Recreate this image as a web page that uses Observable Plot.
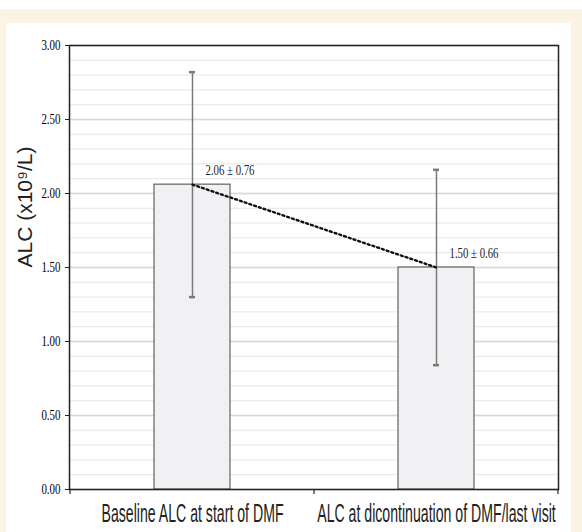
<!DOCTYPE html>
<html>
<head>
<meta charset="utf-8">
<script src="https://cdn.jsdelivr.net/npm/d3@7"></script>
<script src="https://cdn.jsdelivr.net/npm/@observablehq/plot@0.6"></script>
<style>
  html, body { margin: 0; padding: 0; background: #ffffff; }
  #page { position: relative; width: 582px; height: 532px; overflow: hidden; background: #ffffff; }
  #cream { position: absolute; left: 0; top: 9px; width: 582px; height: 523px; background: #fdf3e4; }
  #panel { position: absolute; left: 6px; top: 23px; width: 565px; height: 509px; background: #ffffff; }
  #chart { position: absolute; left: 0; top: 0; }
</style>
</head>
<body>
<div id="page">
  <div id="cream"></div>
  <div id="panel"></div>
  <div id="chart"></div>
</div>
<script>
const categories = ["Baseline ALC at start of DMF", "ALC at dicontinuation of DMF/last visit"];
const means = [2.06, 1.50];
const sds = [0.76, 0.66];
const yTicks = [0, 0.5, 1, 1.5, 2, 2.5, 3];
const yLabel = "ALC (x10\u2079/L)";

const data = categories.map((c, i) => ({category: c, mean: means[i], sd: sds[i]}));

const chart = Plot.plot({
  width: 582,
  height: 532,
  marginLeft: 69,
  marginRight: 24,
  marginTop: 45,
  marginBottom: 43,
  style: {background: "transparent", overflow: "visible"},
  x: {domain: categories, padding: 0, label: null},
  y: {domain: [0, 3], label: null},
  marks: [
    Plot.gridY({interval: 0.1, stroke: "#ebebeb", strokeOpacity: 1, strokeWidth: 1.3}),
    Plot.gridY(yTicks, {stroke: "#d9d9d9", strokeOpacity: 1, strokeWidth: 1.3}),
    Plot.barY(data, {x: "category", y: "mean", fill: "#f1f1f3", stroke: "#444", strokeWidth: 1, insetLeft: 84, insetRight: 84}),
    Plot.ruleX(data, {x: "category", y1: d => d.mean - d.sd, y2: d => d.mean + d.sd, stroke: "#7a7a7a", strokeWidth: 1.5}),
    Plot.tickY(data, {x: "category", y: d => d.mean + d.sd, stroke: "#7a7a7a", strokeWidth: 2.5, insetLeft: 119, insetRight: 119}),
    Plot.tickY(data, {x: "category", y: d => d.mean - d.sd, stroke: "#7a7a7a", strokeWidth: 2.5, insetLeft: 119, insetRight: 119}),
    Plot.line(data, {x: "category", y: "mean", stroke: "#111", strokeWidth: 2.4, strokeDasharray: "2,3"}),
    Plot.text(data, {x: "category", y: "mean", text: d => `${d.mean.toFixed(2)} \u00b1 ${d.sd.toFixed(2)}`, textAnchor: "start", dx: 13, dy: -14, fontFamily: "Liberation Serif", fontSize: 14, fill: "#222"}),
    Plot.axisY({ticks: yTicks, tickFormat: d3.format(".2f"), tickSize: 4, tickPadding: 5, fontFamily: "Liberation Serif", fontSize: 14, label: null, stroke: "#222"}),
    Plot.axisX({tickSize: 0, tickPadding: 15, fontFamily: "Liberation Sans", fontSize: 25, label: null, fill: "#222"}),
    Plot.text([yLabel], {frameAnchor: "left", rotate: -90, dx: -44, fontFamily: "Liberation Sans", fontSize: 21, fill: "#222"}),
    Plot.frame({stroke: "#222", strokeWidth: 1.5})
  ]
});

document.getElementById("chart").appendChild(chart);

// condense texts horizontally (the reference uses condensed typefaces)
const svg = d3.select(chart);
function condense(sel, factor) {
  sel.each(function() {
    const t = this.getAttribute("transform") || "";
    this.setAttribute("transform", `${t} scale(${factor},1)`);
  });
}
condense(svg.selectAll('g[aria-label="x-axis tick label"] text'), 0.565);
condense(svg.selectAll('g[aria-label="y-axis tick label"] text'), 0.78);
condense(svg.selectAll('g[aria-label="text"] text').filter(function() { return this.textContent.includes("\u00b1"); }), 0.77);

// tick marks at category boundaries on the x axis
const xs = chart.scale("x");
const ys = chart.scale("y");
const y0 = ys.apply(0);
const bounds = [];
categories.forEach((c, i) => {
  const start = xs.apply(c);
  if (i === 0) bounds.push(start);
  bounds.push(start + xs.step);
});
svg.append("g").attr("aria-label", "x-boundary-ticks")
  .selectAll("line").data(bounds).join("line")
  .attr("x1", d => d).attr("x2", d => d)
  .attr("y1", y0).attr("y2", y0 + 5)
  .attr("stroke", "#222").attr("stroke-width", 1.2);
</script>
</body>
</html>
